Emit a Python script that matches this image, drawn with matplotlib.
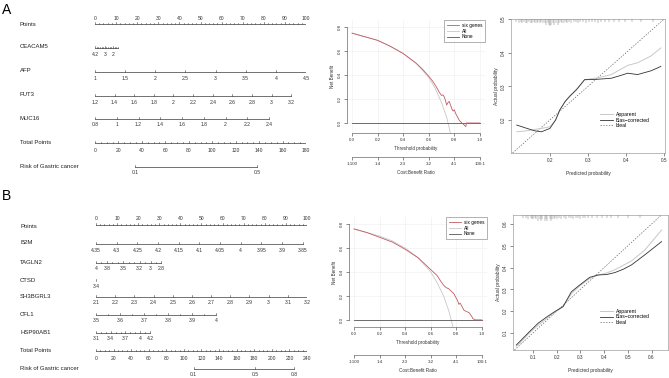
import numpy as np
import matplotlib
matplotlib.use('Agg')
import matplotlib.pyplot as plt
from matplotlib.lines import Line2D

plt.rcParams['font.family'] = ['Liberation Sans', 'DejaVu Sans']

W, H = 669, 378

# ---------------- nomogram data ----------------
# each row: name, tick values, labelled values, (value at start, value at end), (points at start, points at end)
nomo_a = [
    ('CEACAM5', [4.2, 4.0, 3.8, 3.6, 3.4, 3.2, 3.0, 2.8, 2.6, 2.4, 2.2, 2.0, 1.8, 1.6, 1.4],
     [4.2, 3, 2], (4.2, 1.4), (0, 10.8)),
    ('AFP', [1, 1.5, 2, 2.5, 3, 3.5, 4, 4.5], [1, 1.5, 2, 2.5, 3, 3.5, 4, 4.5], (1, 4.5), (0, 100)),
    ('FUT3', [1.2, 1.4, 1.6, 1.8, 2, 2.2, 2.4, 2.6, 2.8, 3, 3.2],
     [1.2, 1.4, 1.6, 1.8, 2, 2.2, 2.4, 2.6, 2.8, 3, 3.2], (1.2, 3.2), (0, 93)),
    ('MUC16', [0.8, 1, 1.2, 1.4, 1.6, 1.8, 2, 2.2, 2.4],
     [0.8, 1, 1.2, 1.4, 1.6, 1.8, 2, 2.2, 2.4], (0.8, 2.4), (0, 82.5)),
]
total_max_a = 180
risk_a = [0.1, 0.5]
risk_pts_a = [34, 138]

nomo_b = [
    ('B2M', [4.35, 4.3, 4.25, 4.2, 4.15, 4.1, 4.05, 4, 3.95, 3.9, 3.85],
     [4.35, 4.3, 4.25, 4.2, 4.15, 4.1, 4.05, 4, 3.95, 3.9, 3.85], (4.35, 3.85), (0, 98)),
    ('TAGLN2', [4, 3.9, 3.8, 3.7, 3.6, 3.5, 3.4, 3.3, 3.2, 3.1, 3, 2.9, 2.8],
     [4, 3.8, 3.5, 3.2, 3, 2.8], (4, 2.8), (0, 31)),
    ('CTSD', [3.4], [3.4], (3.4, 3.4), (0, 0)),
    ('SH3BGRL3', [2.1, 2.2, 2.3, 2.4, 2.5, 2.6, 2.7, 2.8, 2.9, 3, 3.1, 3.2],
     [2.1, 2.2, 2.3, 2.4, 2.5, 2.6, 2.7, 2.8, 2.9, 3, 3.1, 3.2], (2.1, 3.2), (0, 100)),
    ('CFL1', [3.5, 3.55, 3.6, 3.65, 3.7, 3.75, 3.8, 3.85, 3.9, 3.95, 4],
     [3.5, 3.6, 3.7, 3.8, 3.9, 4], (3.5, 4), (0, 57)),
    ('HSP90AB1', [3.1, 3.2, 3.3, 3.4, 3.5, 3.6, 3.7, 3.8, 3.9, 4, 4.1, 4.2],
     [3.1, 3.4, 3.7, 4, 4.2], (3.1, 4.2), (0, 25.6)),
]
total_max_b = 240
risk_b = [0.1, 0.5, 0.8]
risk_pts_b = [111, 181, 225]

# ---------------- decision curve data ----------------
dca_a_x = [0, 0.1, 0.2, 0.3, 0.4, 0.5, 0.55, 0.6, 0.63, 0.66, 0.68, 0.70, 0.71, 0.72, 0.73,
           0.74, 0.75, 0.76, 0.77, 0.78, 0.79, 0.80, 0.81, 0.82, 0.84, 0.86, 0.87, 0.88,
           0.89, 0.895, 0.90, 1.0]
dca_a_six = [0.75, 0.72, 0.69, 0.64, 0.58, 0.50, 0.45, 0.39, 0.35, 0.30, 0.26, 0.23, 0.235,
             0.22, 0.19, 0.15, 0.17, 0.18, 0.15, 0.12, 0.10, 0.11, 0.08, 0.06, 0.02, 0.0,
             -0.01, -0.02, -0.03, 0.0, 0.0, 0.0]
all_a_x = [0, 0.1, 0.2, 0.3, 0.4, 0.5, 0.6, 0.65, 0.7, 0.72, 0.74, 0.76, 0.77]
all_a_y = [0.75, 0.72, 0.69, 0.64, 0.58, 0.50, 0.38, 0.29, 0.17, 0.11, 0.05, -0.04, -0.09]

dca_b_x = [0, 0.1, 0.2, 0.3, 0.4, 0.5, 0.55, 0.6, 0.65, 0.68, 0.7, 0.72, 0.74, 0.75, 0.77,
           0.78, 0.8, 0.81, 0.82, 0.83, 0.84, 0.86, 0.88, 0.9, 0.92, 0.93, 0.95, 1.0]
dca_b_six = [0.76, 0.73, 0.69, 0.65, 0.59, 0.52, 0.47, 0.42, 0.37, 0.32, 0.29, 0.27, 0.26,
             0.25, 0.23, 0.22, 0.18, 0.16, 0.13, 0.14, 0.12, 0.08, 0.07, 0.06, 0.03, 0.01,
             0.0, 0.0]
all_b_x = [0, 0.1, 0.2, 0.3, 0.4, 0.5, 0.6, 0.65, 0.7, 0.72, 0.74, 0.76, 0.775]
all_b_y = [0.76, 0.73, 0.70, 0.66, 0.60, 0.52, 0.40, 0.31, 0.20, 0.14, 0.08, 0.0, -0.07]

cb_ticks = [0, 0.2, 0.4, 0.6, 0.8, 1.0]
cb_labels = ['1:100', '1:4', '2:3', '3:2', '4:1', '100:1']

# ---------------- calibration data ----------------
cal_a_x = [0.113, 0.14, 0.16, 0.178, 0.2, 0.215, 0.226, 0.24, 0.252, 0.27, 0.291, 0.304,
           0.325, 0.361, 0.385, 0.404, 0.43, 0.465, 0.491]
cal_a_bias = [0.185, 0.175, 0.168, 0.165, 0.175, 0.20, 0.23, 0.255, 0.27, 0.29, 0.32, 0.32,
              0.321, 0.324, 0.332, 0.339, 0.335, 0.346, 0.359]
cal_a_app = [0.165, 0.168, 0.172, 0.175, 0.18, 0.20, 0.228, 0.255, 0.272, 0.292, 0.318,
             0.322, 0.325, 0.335, 0.35, 0.362, 0.37, 0.39, 0.414]
rug_a = [0.112, 0.118, 0.123, 0.128, 0.133, 0.137, 0.141, 0.146, 0.150, 0.154, 0.158, 0.162,
         0.166, 0.170, 0.174, 0.178, 0.182, 0.186, 0.190, 0.194, 0.197, 0.201, 0.204, 0.208,
         0.212, 0.216, 0.220, 0.224, 0.228, 0.232, 0.236, 0.241, 0.246, 0.251, 0.256, 0.262,
         0.268, 0.274, 0.280, 0.287, 0.294, 0.302, 0.310, 0.318, 0.326, 0.335, 0.345, 0.356,
         0.368, 0.382, 0.397, 0.415, 0.44, 0.47]
rug_a_n = [1, 2, 1, 2, 1, 2, 2, 1, 2, 2, 1, 2, 2, 1, 2, 1, 2, 2, 3, 2, 3, 4, 3, 2, 3, 2, 3,
           2, 1, 2, 2, 1, 2, 1, 2, 1, 1, 2, 1, 1, 2, 1, 1, 1, 2, 1, 1, 1, 1, 1, 1, 1, 1, 1]

cal_b_x = [0.03, 0.044, 0.08, 0.121, 0.16, 0.192, 0.227, 0.262, 0.297, 0.339, 0.374, 0.41,
           0.445, 0.48, 0.515, 0.571, 0.642]
cal_b_bias = [0.045, 0.06, 0.10, 0.144, 0.175, 0.198, 0.221, 0.289, 0.32, 0.355, 0.366,
              0.368, 0.377, 0.392, 0.412, 0.458, 0.519]
cal_b_app = [0.04, 0.052, 0.095, 0.135, 0.168, 0.195, 0.22, 0.28, 0.315, 0.35, 0.365,
             0.375, 0.39, 0.41, 0.43, 0.48, 0.572]
rug_b = [0.06, 0.07, 0.08, 0.09, 0.095, 0.10, 0.11, 0.115, 0.12, 0.13, 0.135, 0.14, 0.15,
         0.155, 0.16, 0.17, 0.175, 0.18, 0.19, 0.195, 0.20, 0.21, 0.22, 0.23, 0.24, 0.25,
         0.26, 0.27, 0.28, 0.29, 0.30, 0.31, 0.32, 0.33, 0.35, 0.37, 0.39, 0.41, 0.43, 0.46,
         0.50, 0.55]
rug_b_n = [1, 1, 2, 1, 2, 2, 1, 2, 3, 2, 3, 2, 3, 2, 3, 2, 3, 2, 2, 1, 2, 1, 2, 1, 2, 1, 1,
           2, 1, 1, 2, 1, 1, 1, 1, 1, 1, 1, 1, 1, 1, 1]

RED = '#c25a63'
LGRAY = '#c8c8c8'
DGRAY = '#555555'
NOMO = '#3a3a3a'

fig = plt.figure(figsize=(W / 100, H / 100), dpi=100)


def px_axes(x0, y0, x1, y1):
    return fig.add_axes([x0 / W, 1 - y1 / H, (x1 - x0) / W, (y1 - y0) / H])


def to_pts(v, vr, pr):
    if vr[1] == vr[0]:
        return pr[0]
    return pr[0] + (v - vr[0]) * (pr[1] - pr[0]) / (vr[1] - vr[0])


def fmt(v):
    return ('%g' % v)


def nomogram(x0, x1, rows, ys, total_max, risk, risk_pts):
    ax = px_axes(x0, 0, x1, H)
    ax.set_xlim(0, 100)
    ax.set_ylim(H, 0)
    ax.axis('off')
    lab_x = (20 - x0) / (x1 - x0) * 100
    fs_lab, fs_tick = 4.3, 3.6

    # Points axis
    y = ys[0]
    ax.text(lab_x, y + 1, 'Points', fontsize=fs_lab, va='center', ha='left', color='#222222')
    ax.plot([0, 100], [y, y], color=NOMO, lw=0.5)
    for p in np.arange(0, 101, 2):
        ax.plot([p, p], [y, y - (2.2 if p % 10 == 0 else 1.2)], color=NOMO, lw=0.4)
    for p in range(0, 101, 10):
        ax.text(p, y - 6, str(p), fontsize=fs_tick, ha='center', va='center', color='#333333')

    for (name, ticks, labs, vr, pr), y in zip(rows, ys[1:]):
        ax.text(lab_x, y - 1, name, fontsize=fs_lab, va='center', ha='left', color='#222222')
        tp = [to_pts(t, vr, pr) for t in ticks]
        ax.plot([min(tp), max(tp)], [y, y], color=NOMO, lw=0.5)
        for t, p in zip(ticks, tp):
            big = any(abs(t - l) < 1e-9 for l in labs)
            ax.plot([p, p], [y, y - (1.8 if big else 1.2)], color=NOMO, lw=0.4)
        for l in labs:
            ax.text(to_pts(l, vr, pr), y + 6, fmt(l), fontsize=fs_tick, ha='center',
                    va='center', color='#333333')

    # Total points
    y = ys[-2]
    ax.text(lab_x, y - 1, 'Total Points', fontsize=fs_lab, va='center', ha='left', color='#222222')
    ax.plot([0, 100], [y, y], color=NOMO, lw=0.5)
    for t in np.arange(0, total_max + 1, 5):
        p = t / total_max * 100
        ax.plot([p, p], [y, y - (1.8 if t % 20 == 0 else 1.2)], color=NOMO, lw=0.4)
    for t in range(0, total_max + 1, 20):
        ax.text(t / total_max * 100, y + 7, str(t), fontsize=fs_tick, ha='center',
                va='center', color='#333333')

    # Risk
    y = ys[-1]
    ax.text(lab_x, y - 1, 'Risk of Gastric cancer', fontsize=fs_lab, va='center', ha='left',
            color='#222222')
    rp = [p / total_max * 100 for p in risk_pts]
    ax.plot([rp[0], rp[-1]], [y, y], color=NOMO, lw=0.5)
    for r, p in zip(risk, rp):
        ax.plot([p, p], [y, y - 1.8], color=NOMO, lw=0.4)
        ax.text(p, y + 6, fmt(r), fontsize=fs_tick, ha='center', va='center', color='#333333')
    return ax


nomogram(95, 306, nomo_a, [24, 48, 72, 96, 119, 143, 167], total_max_a, risk_a, risk_pts_a)
nomogram(96, 307, nomo_b, [225, 244, 263, 281, 297, 315, 333, 351, 369], total_max_b,
         risk_b, risk_pts_b)

fig.text(2 / W, 1 - 10 / H, 'A', fontsize=10, va='center', ha='left')
fig.text(2 / W, 1 - 196 / H, 'B', fontsize=10, va='center', ha='left')


def style_axes(ax, fs=3.2):
    ax.tick_params(length=2, width=0.4, pad=1.5, labelsize=fs, colors='#333333')
    for s in ax.spines.values():
        s.set_linewidth(0.4)
        s.set_color('#444444')


def dca(box, cb_y, xs, six, ax_x, ax_y, ylim):
    x0, y0, x1, y1 = box
    ax = px_axes(x0, y0, x1, y1)
    ax.set_xlim(-0.04, 1.04)
    ax.set_ylim(*ylim)
    for g in [0, 0.2, 0.4, 0.6, 0.8, 1.0]:
        ax.axvline(g, color='#eeeeee', lw=0.4, zorder=0)
    for g in [0, 0.2, 0.4, 0.6, 0.8]:
        ax.axhline(g, color='#eeeeee', lw=0.4, zorder=0)
    ax.plot(ax_x, ax_y, color=LGRAY, lw=0.6)
    ax.plot([0, 1], [0, 0], color=DGRAY, lw=0.6)
    ax.plot(xs, six, color=RED, lw=0.6)
    ax.spines['top'].set_visible(False)
    ax.spines['right'].set_visible(False)
    ax.spines['left'].set_bounds(0, 0.8)
    ax.spines['bottom'].set_bounds(0, 1)
    ax.set_xticks([0, 0.2, 0.4, 0.6, 0.8, 1.0])
    ax.set_yticks([0, 0.2, 0.4, 0.6, 0.8])
    ax.set_xticklabels(['0.0', '0.2', '0.4', '0.6', '0.8', '1.0'])
    ax.set_yticklabels(['0.0', '0.2', '0.4', '0.6', '0.8'], rotation=90, va='center')
    style_axes(ax)
    ax.set_xlabel('Threshold probability', fontsize=3.3, labelpad=2.5, color='#333333')
    ax.set_ylabel('Net Benefit', fontsize=3.3, labelpad=2, color='#333333')
    handles = [Line2D([], [], color=RED, lw=0.6), Line2D([], [], color=LGRAY, lw=0.6),
               Line2D([], [], color=DGRAY, lw=0.6)]
    leg = ax.legend(handles, ['six genes', 'All', 'None'], loc='upper right', fontsize=3.4,
                    frameon=True, fancybox=False, borderaxespad=0, handlelength=2.5,
                    borderpad=0.6, labelspacing=0.15, handletextpad=0.6)
    leg.get_frame().set_linewidth(0.4)
    leg.get_frame().set_edgecolor('#555555')

    cb = px_axes(x0, cb_y - 0.5, x1, cb_y)
    cb.set_xlim(-0.04, 1.04)
    cb.set_yticks([])
    for s in ['top', 'left', 'right']:
        cb.spines[s].set_visible(False)
    cb.spines['bottom'].set_bounds(0, 1)
    cb.set_xticks(cb_ticks)
    cb.set_xticklabels(cb_labels)
    style_axes(cb)
    cb.set_xlabel('Cost:Benefit Ratio', fontsize=3.3, labelpad=3, color='#333333')
    cb.patch.set_alpha(0)


dca((347, 20, 485, 133.3), 157, dca_a_x, dca_a_six, all_a_x, all_a_y, (-0.086, 0.86))
dca((349, 217, 487, 327.3), 355, dca_b_x, dca_b_six, all_b_x, all_b_y, (-0.062, 0.86))


def calib(box, xlim, ylim, xt, yt, xs, bias, app, rug, rug_n, leg_y):
    x0, y0, x1, y1 = box
    ax = px_axes(x0, y0, x1, y1)
    ax.set_xlim(*xlim)
    ax.set_ylim(*ylim)
    lo = max(xlim[0], ylim[0])
    hi = min(xlim[1], ylim[1])
    ax.plot([lo, hi], [lo, hi], color='#666666', lw=0.5, ls=(0, (2, 2)))
    ax.plot(xs, app, color=LGRAY, lw=0.7)
    ax.plot(xs, bias, color='#333333', lw=0.6)
    top = ylim[1]
    step = (ylim[1] - ylim[0]) / (y1 - y0)
    ax.vlines(rug, [top - (1.6 + 1.3 * n) * step for n in rug_n], top, color='#666666', lw=0.3)
    ax.set_xticks(xt)
    ax.set_yticks(yt)
    ax.set_xticklabels([fmt(v) for v in xt])
    ax.set_yticklabels([fmt(v) for v in yt], rotation=90, va='center')
    style_axes(ax, fs=3.4)
    for s in ax.spines.values():
        s.set_color('#888888')
    ax.set_xlabel('Predicted probability', fontsize=3.5, labelpad=6, color='#333333')
    ax.set_ylabel('Actual probability', fontsize=3.5, labelpad=1.5, color='#333333')
    handles = [Line2D([], [], color=LGRAY, lw=0.7), Line2D([], [], color='#333333', lw=0.6),
               Line2D([], [], color='#666666', lw=0.5, ls=(0, (2, 2)))]
    ax.legend(handles, ['Apparent', 'Bias\u2212corrected', 'Ideal'], fontsize=3.6,
              frameon=False, loc='upper left',
              bbox_to_anchor=((600 - x0) / (x1 - x0), 1 - (leg_y - y0) / (y1 - y0)),
              borderaxespad=0, handlelength=2.6, labelspacing=0.1, handletextpad=0.5,
              borderpad=0)


calib((511, 19, 665, 153), (0.098, 0.502), (0.102, 0.5), [0.2, 0.3, 0.4, 0.5],
      [0.2, 0.3, 0.4, 0.5], cal_a_x, cal_a_bias, cal_a_app, rug_a, rug_a_n, 112)
calib((513, 215, 668, 350), (0.016, 0.669), (0.022, 0.641), [0.1, 0.2, 0.3, 0.4, 0.5, 0.6],
      [0.1, 0.2, 0.3, 0.4, 0.5, 0.6], cal_b_x, cal_b_bias, cal_b_app, rug_b, rug_b_n, 309)

fig.savefig('out.png', dpi=100)
